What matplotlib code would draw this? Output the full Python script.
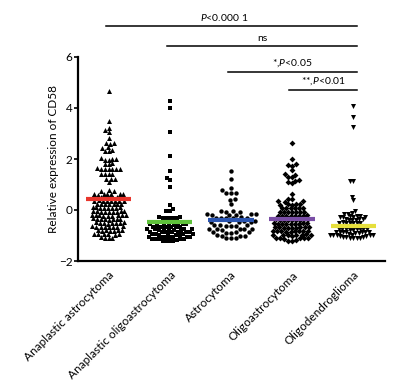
import numpy as np
import matplotlib
matplotlib.use("Agg")
import matplotlib.pyplot as plt

plt.rcParams['font.family'] = ['Lato', 'DejaVu Sans']
plt.rcParams['mathtext.fontset'] = 'custom'
plt.rcParams['mathtext.it'] = 'Lato:italic'
plt.rcParams['mathtext.rm'] = 'Lato'

categories = ["Anaplastic astrocytoma", "Anaplastic oligoastrocytoma",
              "Astrocytoma", "Oligoastrocytoma", "Oligodendroglioma"]

anaplastic_astrocytoma = [
    4.68, 3.50, 3.22, 3.15, 3.07, 2.84, 2.64, 2.62, 2.60, 2.47, 2.45, 2.34, 2.33, 2.32,
    2.02, 2.00, 2.00, 1.98, 1.97, 1.83, 1.82, 1.80, 1.63, 1.62, 1.62, 1.61, 1.60, 1.60, 1.59,
    1.43, 1.42, 1.41, 1.40, 1.22, 1.21, 1.20, 1.10, 0.77, 0.76, 0.75,
    0.64, 0.63, 0.63, 0.62, 0.62, 0.61, 0.60,
    0.51, 0.50, 0.50, 0.49, 0.49, 0.48, 0.48, 0.47,
    0.38, 0.37, 0.37, 0.36, 0.36, 0.35, 0.35, 0.34,
    0.25, 0.24, 0.24, 0.23, 0.23, 0.22, 0.22,
    0.11, 0.10, 0.10, 0.09, 0.09, 0.08, 0.08, 0.07,
    -0.03, -0.04, -0.05, -0.05, -0.06, -0.06, -0.07, -0.07, -0.08,
    -0.18, -0.19, -0.20, -0.20, -0.21, -0.21, -0.22, -0.22, -0.23,
    -0.33, -0.34, -0.35, -0.35, -0.36, -0.36, -0.37, -0.38,
    -0.48, -0.49, -0.50, -0.50, -0.51, -0.51, -0.52, -0.53,
    -0.63, -0.64, -0.65, -0.65, -0.66, -0.66, -0.67, -0.68,
    -0.78, -0.79, -0.80, -0.80, -0.81, -0.82, -0.83,
    -0.93, -0.94, -0.95, -0.95, -0.96, -0.97,
    -1.06, -1.08, -1.08, -1.10]

anaplastic_oligoastrocytoma = [
    4.28, 3.99, 3.04, 2.13, 1.53, 1.26, 1.18, 0.92, 0.21, 0.04, -0.03, -0.05,
    -0.28, -0.29, -0.30, -0.30, -0.31, -0.31, -0.32,
    -0.54, -0.55, -0.55, -0.56, -0.56, -0.57, -0.57,
    -0.64, -0.65, -0.65, -0.66, -0.66, -0.67, -0.67,
    -0.74, -0.75, -0.75, -0.76, -0.76, -0.77, -0.77, -0.78,
    -0.84, -0.85, -0.85, -0.86, -0.86, -0.87, -0.87, -0.88,
    -0.94, -0.95, -0.95, -0.96, -0.96, -0.97, -0.97, -0.98,
    -1.04, -1.05, -1.05, -1.06, -1.06, -1.07, -1.07,
    -1.13, -1.14, -1.14, -1.15, -1.15, -1.16,
    -1.20, -1.21, -1.22, -1.22]

astrocytoma = [
    1.51, 1.22, 0.85, 0.79, 0.66, 0.66, 0.65, 0.42, 0.41, 0.22,
    -0.04, -0.05, -0.06, -0.07,
    -0.16, -0.17, -0.17, -0.18, -0.18, -0.19,
    -0.29, -0.30, -0.30, -0.31, -0.31, -0.32,
    -0.44, -0.45, -0.45, -0.46, -0.46, -0.47,
    -0.59, -0.60, -0.60, -0.61, -0.61, -0.62,
    -0.74, -0.75, -0.75, -0.76, -0.76, -0.77,
    -0.87, -0.88, -0.88, -0.89, -0.90,
    -0.99, -1.00, -1.00, -1.01,
    -1.09, -1.10, -1.10]

oligoastrocytoma = [
    2.61, 2.00, 1.80, 1.78, 1.72, 1.55, 1.40, 1.38, 1.30, 1.28, 1.17, 1.15, 1.10, 1.05, 0.64,
    0.45, 0.44, 0.35, 0.34, 0.33,
    0.23, 0.22, 0.22, 0.21, 0.21,
    0.09, 0.08, 0.08, 0.07, 0.07, 0.06,
    -0.06, -0.07, -0.07, -0.08, -0.08, -0.09, -0.09,
    -0.21, -0.22, -0.22, -0.23, -0.23, -0.24, -0.24, -0.25,
    -0.36, -0.37, -0.37, -0.38, -0.38, -0.39, -0.39, -0.40, -0.40,
    -0.51, -0.52, -0.52, -0.53, -0.53, -0.54, -0.54, -0.55, -0.55,
    -0.66, -0.67, -0.67, -0.68, -0.68, -0.69, -0.69, -0.70, -0.70,
    -0.81, -0.82, -0.82, -0.83, -0.83, -0.84, -0.84, -0.85, -0.85,
    -0.96, -0.97, -0.97, -0.98, -0.98, -0.99, -0.99, -1.00,
    -1.09, -1.10, -1.10, -1.11, -1.11, -1.12,
    -1.19, -1.20, -1.21]

oligodendroglioma = [
    4.06, 3.66, 3.27, 1.14, 1.12, 0.51, 0.39, -0.04, -0.13, -0.14, -0.15,
    -0.24, -0.25, -0.25, -0.26, -0.26, -0.27, -0.27,
    -0.36, -0.37, -0.37, -0.38, -0.38, -0.39,
    -0.49, -0.50, -0.50, -0.51, -0.51, -0.52, -0.52,
    -0.61, -0.62, -0.62, -0.63, -0.63, -0.64, -0.64, -0.65,
    -0.73, -0.74, -0.74, -0.75, -0.75, -0.76, -0.76, -0.77, -0.77,
    -0.85, -0.86, -0.86, -0.87, -0.87, -0.88, -0.88, -0.89, -0.89,
    -0.96, -0.97, -0.97, -0.98, -0.98, -0.99, -0.99, -1.00, -1.00,
    -1.06, -1.07, -1.07, -1.08, -1.08, -1.09, -1.10]

groups = [anaplastic_astrocytoma, anaplastic_oligoastrocytoma, astrocytoma,
          oligoastrocytoma, oligodendroglioma]

# central lines
center_values = [0.42, -0.47, -0.40, -0.34, -0.63]
center_colors = ['#e8352c', '#5fc23b', '#2b55b0', '#7a4ea6', '#e6df3c']
markers = ['^', 's', 'o', 'D', 'v']
marker_sizes = [13, 11, 10, 9, 13]
swarm_d = [3.9, 3.6, 4.9, 4.1, 3.4]   # collision distance in pixels

# significance brackets: (start category, end category, label)
brackets = [(0, 4, r'$P$<0.000 1'), (1, 4, 'ns'), (2, 4, r'*,$P$<0.05'), (3, 4, r'**,$P$<0.01')]
bracket_y = [7.23, 6.44, 5.42, 4.72]

W, H, DPI = 408, 386, 100
fig = plt.figure(figsize=(W / DPI, H / DPI), dpi=DPI)
ax_l, ax_r = 78 / W, 385 / W
ax_b, ax_t = (H - 261) / H, (H - 57) / H
ax = fig.add_axes([ax_l, ax_b, ax_r - ax_l, ax_t - ax_b])
ax.set_xlim(-0.5, 4.52)
ax.set_ylim(-2, 6)

px_per_x = (385 - 78) / 5.02
px_per_y = (261 - 57) / 8.0


def swarm(values, d):
    vals = np.asarray(values, dtype=float)
    order = np.argsort(vals)
    placed = []
    offsets = np.zeros(len(vals))
    for idx in order:
        y = vals[idx] * px_per_y
        intervals = []
        cands = [0.0]
        for (xj, yj) in placed:
            dy = y - yj
            if abs(dy) < d:
                w = np.sqrt(d * d - dy * dy)
                intervals.append((xj - w, xj + w))
                cands += [xj - w, xj + w]
        cands = sorted(cands, key=lambda c: (abs(c), c))
        best = 0.0
        for c in cands:
            if all(not (lo + 1e-6 < c < hi - 1e-6) for lo, hi in intervals):
                best = c
                break
        placed.append((best, y))
        offsets[idx] = best
    return offsets / px_per_x


for i, vals in enumerate(groups):
    off = swarm(vals, swarm_d[i])
    ax.scatter(i + off, vals, marker=markers[i], s=marker_sizes[i], c='black',
               linewidths=0, zorder=2)
    ax.plot([i - 0.37, i + 0.37], [center_values[i]] * 2, color=center_colors[i],
            lw=3.0, solid_capstyle='butt', zorder=3)

for (s, e, lab), y in zip(brackets, bracket_y):
    x0 = s - 0.05
    x1 = e + 0.07
    ax.plot([x0, x1], [y, y], color='black', lw=1.1, clip_on=False)
    ax.text((x0 + x1) / 2 - 0.12 if s == 0 else (x0 + x1) / 2, y + 0.1, lab,
            ha='center', va='bottom', fontsize=7.5)

ax.spines['top'].set_visible(False)
ax.spines['right'].set_visible(False)
ax.spines['left'].set_linewidth(1.6)
ax.spines['bottom'].set_linewidth(1.6)
ax.set_yticks([-2, 0, 2, 4, 6])
ax.tick_params(axis='y', direction='out', length=3, width=1.2, labelsize=8.5, pad=1)
ax.set_xticks(range(5))
ax.set_xticklabels(categories, rotation=45, ha='right', rotation_mode='anchor',
                   fontsize=8.5)
ax.tick_params(axis='x', length=0, pad=6)
ax.set_ylabel('Relative expression of CD58', fontsize=8.5)
ax.yaxis.set_label_coords(-0.062, 0.5)

fig.savefig('out.png', dpi=DPI)
